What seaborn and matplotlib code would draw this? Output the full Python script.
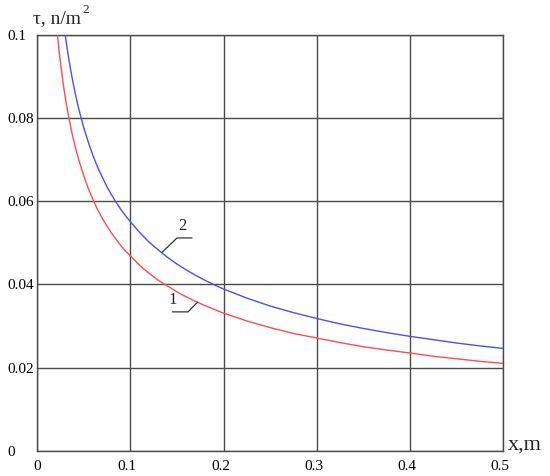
import numpy as np
import pandas as pd
import matplotlib
matplotlib.use("Agg")
import matplotlib.pyplot as plt
import matplotlib.transforms as mtransforms
import seaborn as sns

# curve 1 (red)
x_1 = [0.022, 0.023, 0.024, 0.025, 0.026, 0.027, 0.028, 0.030, 0.032, 0.035,
       0.038, 0.040, 0.042, 0.045, 0.050, 0.055, 0.060, 0.065, 0.070, 0.075,
       0.080, 0.085, 0.090, 0.095, 0.100, 0.110, 0.120, 0.130, 0.140, 0.150,
       0.160, 0.170, 0.180, 0.190, 0.200, 0.225, 0.250, 0.275, 0.300, 0.325,
       0.350, 0.375, 0.400, 0.425, 0.450, 0.475, 0.500]
tau_1 = [0.0998, 0.0976, 0.0955, 0.0936, 0.0918, 0.0901, 0.0884, 0.0854, 0.0827, 0.0791,
         0.0759, 0.0740, 0.0722, 0.0698, 0.0662, 0.0631, 0.0604, 0.0580, 0.0559, 0.0540,
         0.0523, 0.0508, 0.0493, 0.0480, 0.0469, 0.0446, 0.0427, 0.0410, 0.0396, 0.0382,
         0.0370, 0.0359, 0.0349, 0.0340, 0.0331, 0.0312, 0.0296, 0.0282, 0.0271, 0.0260,
         0.0250, 0.0242, 0.0235, 0.0227, 0.0221, 0.0215, 0.0210]

# curve 2 (blue)
x_2 = [0.030, 0.031, 0.032, 0.033, 0.034, 0.036, 0.038, 0.040, 0.042, 0.045,
       0.050, 0.055, 0.060, 0.065, 0.070, 0.075, 0.080, 0.085, 0.090, 0.095,
       0.100, 0.110, 0.120, 0.130, 0.140, 0.150, 0.160, 0.170, 0.180, 0.190,
       0.200, 0.225, 0.250, 0.275, 0.300, 0.325, 0.350, 0.375, 0.400, 0.425,
       0.450, 0.475, 0.500]
tau_2 = [0.1004, 0.0988, 0.0973, 0.0958, 0.0944, 0.0917, 0.0893, 0.0870, 0.0849, 0.0820,
         0.0778, 0.0742, 0.0710, 0.0682, 0.0658, 0.0635, 0.0615, 0.0597, 0.0580, 0.0565,
         0.0551, 0.0525, 0.0502, 0.0483, 0.0465, 0.0449, 0.0435, 0.0422, 0.0410, 0.0399,
         0.0389, 0.0367, 0.0348, 0.0332, 0.0318, 0.0305, 0.0294, 0.0284, 0.0275, 0.0267,
         0.0259, 0.0252, 0.0246]

x_ticks = [0, 0.1, 0.2, 0.3, 0.4, 0.5]
x_tick_labels = ["0", "0.1", "0.2", "0.3", "0.4", "0.5"]
y_ticks = [0, 0.02, 0.04, 0.06, 0.08, 0.1]
y_tick_labels = ["0", "0.02", "0.04", "0.06", "0.08", "0.1"]

df = pd.concat([
    pd.DataFrame({"x": x_1, "tau": tau_1, "curve": "1"}),
    pd.DataFrame({"x": x_2, "tau": tau_2, "curve": "2"}),
])

sns.set_style("white")
plt.rcParams["font.family"] = ["Liberation Serif", "DejaVu Serif"]

grid_col = "#4a4a4a"
fig = plt.figure(figsize=(5.5, 4.76), dpi=100)
ax = fig.add_axes([0.0673, 0.0532, 0.8478, 0.8733])

sns.lineplot(data=df, x="x", y="tau", hue="curve", palette={"1": "#ff4d4d", "2": "#4d4dff"},
             linewidth=1.0, legend=False, sort=False, estimator=None, ax=ax, zorder=3)

ax.set_xlim(0, 0.5)
ax.set_ylim(0, 0.1)
ax.set_xticks(x_ticks)
ax.set_xticklabels(x_tick_labels)
ax.set_yticks(y_ticks)
ax.set_yticklabels(y_tick_labels)
ax.set_xlabel("")
ax.set_ylabel("")
ax.grid(True, color=grid_col, linewidth=1.0)
for s in ax.spines.values():
    s.set_visible(True)
    s.set_color(grid_col)
    s.set_linewidth(1.0)
ax.tick_params(axis="both", length=0, labelsize=11, colors="black")
ax.tick_params(axis="x", pad=6.5)
ax.tick_params(axis="y", pad=21.6)
for lab in ax.get_yticklabels():
    lab.set_ha("left")
shift = mtransforms.ScaledTranslation(-3 / 100, 0, fig.dpi_scale_trans)
for lab in ax.get_xticklabels()[1:]:
    lab.set_transform(lab.get_transform() + shift)

ylab = fig.text(33 / 550, 1 - 23 / 476, "τ, n/m", fontsize=14, ha="left", va="baseline")
fig.text(508 / 550, 1 - 450 / 476, "x,m", fontsize=16, ha="left", va="baseline")

fig.canvas.draw()
bb = ylab.get_window_extent()
fig.text((bb.x1 + 1.5) / 550, 1 - 13 / 476, "2", fontsize=9.5, ha="left", va="baseline")

# leader lines with curve labels
to_data = ax.transData.inverted()


def leader(anchor_x, xs, ys, pts, label, label_px):
    ay = np.interp(anchor_x, xs, ys)
    ax0, ay0 = ax.transData.transform((anchor_x, ay))
    path = [to_data.transform((ax0 + dx, ay0 + dy)) for dx, dy in pts]
    path = np.array([[anchor_x, ay]] + [list(p) for p in path])
    ax.plot(path[:, 0], path[:, 1], color="#333333", linewidth=0.9, zorder=4)
    lx, ly = to_data.transform((ax0 + label_px[0], ay0 + label_px[1]))
    ax.text(lx, ly, label, fontsize=12, ha="center", va="center", zorder=5)


leader(0.1337, x_2, tau_2, [(15.3, 14.7), (30.3, 14.7)], "2", (20.8, 27))
leader(0.172, x_1, tau_1, [(-9.4, -9.6), (-25.0, -9.6)], "1", (-25.2, 2.2))

fig.savefig("out.png", dpi=100)
